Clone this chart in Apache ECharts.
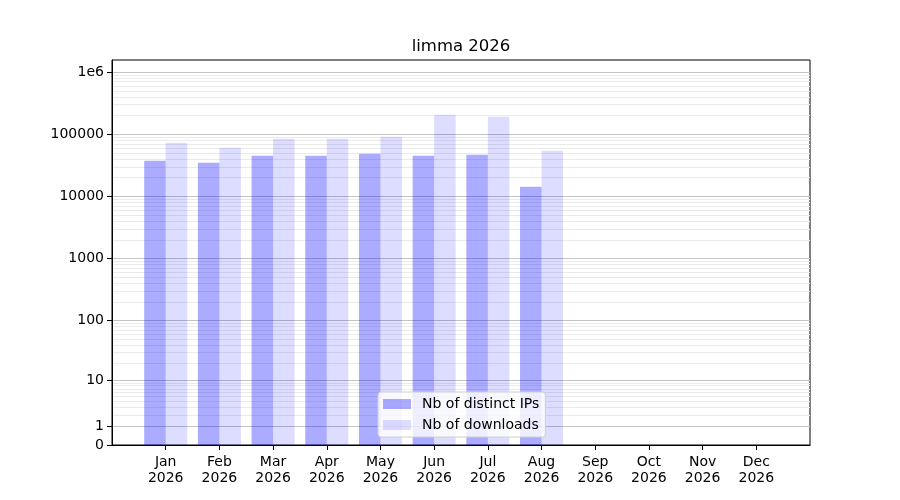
<!DOCTYPE html>
<html>
<head>
<meta charset="utf-8">
<title>limma 2026</title>
<script src="https://cdn.jsdelivr.net/npm/echarts@6/dist/echarts.min.js"></script>
<style>
  html, body { margin: 0; padding: 0; background: #fff; }
  #chart { width: 900px; height: 500px; }
</style>
</head>
<body>
<div id="chart"></div>
<script>
// data
var months = ['Jan', 'Feb', 'Mar', 'Apr', 'May', 'Jun', 'Jul', 'Aug', 'Sep', 'Oct', 'Nov', 'Dec'];
var year = '2026';
var distinctIPs = [37400, 34800, 45000, 45000, 48500, 45000, 46800, 14300, 0, 0, 0, 0];
var downloads = [73000, 60600, 84700, 84700, 91100, 206000, 191000, 54200, 0, 0, 0, 0];
var yTickValues = [0, 1, 10, 100, 1000, 10000, 100000, 1000000];
var yTickLabels = ['0', '1', '10', '100', '1000', '10000', '100000', '1e6'];

// the y scale is log10(1 + x)
function tr(v) { return Math.log(1 + v) / Math.LN10; }

var majorPos = yTickValues.map(tr);
var minorPos = [];
for (var k = 0; k < 6; k++) {
	for (var m = 2; m <= 9; m++) {
		minorPos.push(tr(m * Math.pow(10, k)));
	}
}

function yLabel(val) {
	for (var i = 0; i < majorPos.length; i++) {
		if (Math.abs(majorPos[i] - val) < 1e-6) return yTickLabels[i];
	}
	return '';
}

var monthIdx = months.map(function(m, i) { return i; });
var ipData = distinctIPs.map(function(v, i) { return [i, tr(v)]; });
var dlData = downloads.map(function(v, i) { return [i, tr(v)]; });

var font = 'DejaVu Sans';
var myChart = echarts.init(document.getElementById('chart'));
var option = {
	animation: false,
	backgroundColor: '#fff',
	textStyle: { fontFamily: font },
	// title centred over the plot area, not the page
	graphic: [{
		type: 'text',
		x: 461,
		y: 47,
		style: {
			text: 'limma 2026',
			textAlign: 'center',
			textVerticalAlign: 'middle',
			fontFamily: font,
			fontSize: 16.5,
			fill: '#000'
		}
	}],
	legend: {
		orient: 'vertical',
		left: 378,
		top: 392,
		padding: [5, 6, 5, 5],
		itemWidth: 28,
		itemHeight: 10,
		itemGap: 7,
		icon: 'rect',
		backgroundColor: 'rgba(255,255,255,0.8)',
		borderColor: '#d0d0d0',
		borderWidth: 1,
		borderRadius: 3,
		textStyle: { fontFamily: font, fontSize: 14, color: '#000', padding: [0, 0, 0, 6] },
		data: ['Nb of distinct IPs', 'Nb of downloads']
	},
	grid: {
		left: 112, right: 90, top: 60, bottom: 55,
		show: true, borderColor: '#000', borderWidth: 1
	},
	xAxis: {
		type: 'value',
		min: -1,
		max: 12,
		axisLine: { onZero: false, lineStyle: { color: '#000' } },
		axisTick: { customValues: monthIdx, length: 5, lineStyle: { color: '#000' } },
		axisLabel: {
			customValues: monthIdx,
			margin: 9,
			fontFamily: font,
			fontSize: 14,
			lineHeight: 16,
			color: '#000',
			formatter: function(v) { return months[Math.round(v)] + '\n' + year; }
		},
		splitLine: { show: false }
	},
	yAxis: [{
		type: 'value',
		min: 0,
		max: 6.195,
		position: 'left',
		axisLine: { show: true, onZero: false, lineStyle: { color: '#000' } },
		axisTick: { show: true, customValues: majorPos, length: 5, lineStyle: { color: '#000' } },
		axisLabel: {
			customValues: majorPos,
			margin: 8,
			fontFamily: font,
			fontSize: 14,
			color: '#000',
			formatter: yLabel
		},
		splitLine: { show: true, lineStyle: { color: '#c4c4c4', width: 1 } }
	}, {
		// minor grid lines only
		type: 'value',
		min: 0,
		max: 6.195,
		position: 'left',
		axisLine: { show: false, onZero: false },
		axisTick: { show: false, customValues: minorPos },
		axisLabel: { show: false, customValues: minorPos },
		splitLine: { show: true, lineStyle: { color: '#ebebeb', width: 1 } }
	}],
	series: [{
		name: 'Nb of distinct IPs',
		type: 'bar',
		yAxisIndex: 0,
		data: ipData,
		barWidth: 21.5,
		barGap: '0%',
		itemStyle: { color: 'rgba(0,0,255,0.33)' }
	}, {
		name: 'Nb of downloads',
		type: 'bar',
		yAxisIndex: 0,
		data: dlData,
		barWidth: 21.5,
		barGap: '0%',
		itemStyle: { color: 'rgba(0,0,255,0.135)' }
	}]
};
myChart.setOption(option);
</script>
</body>
</html>
